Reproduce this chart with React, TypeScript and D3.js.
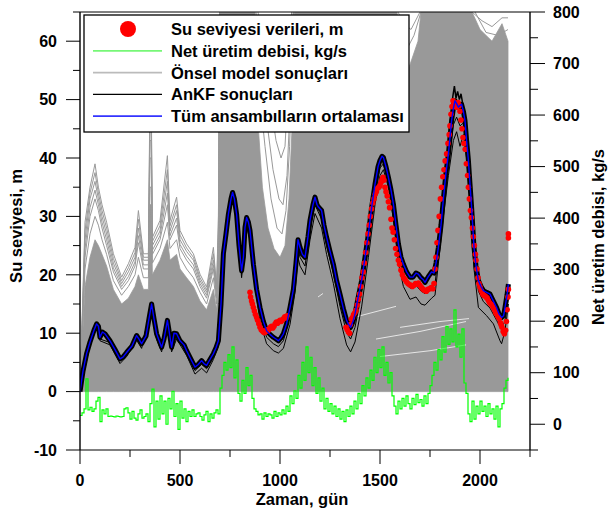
import React, { useMemo } from "react";
import * as d3 from "d3";

const W = 608;
const H = 512;

// ---------------- data ----------------
const xMajorTicks = [0, 500, 1000, 1500, 2000];
const xMinorTicks = [250, 750, 1250, 1750, 2250];
const leftMajorTicks = [-10, 0, 10, 20, 30, 40, 50, 60];
const leftMinorTicks = [-5, 5, 15, 25, 35, 45, 55, 65];
const rightMajorTicks = [0, 100, 200, 300, 400, 500, 600, 700, 800];
const rightMinorTicks = [-50, 50, 150, 250, 350, 450, 550, 650, 750];

const legendLabels = [
  "Su seviyesi verileri, m",
  "Net üretim debisi, kg/s",
  "Önsel model sonuçları",
  "AnKF sonuçları",
  "Tüm ansambılların ortalaması",
];

// ensemble mean (day, m)
const meanSeries: [number, number][] = [
  [0, 0], [15, 3.5], [33, 6.5], [50, 8.5], [70, 10.5], [83, 11.6], [92, 11.2], [100, 9.3], [112, 10.2], [125, 9.9],
  [150, 8.7], [175, 7.2], [200, 5.6], [215, 5.9], [233, 6.7], [260, 7.8], [283, 9.6], [295, 9.0], [308, 8.2], [330, 9.5],
  [345, 12.5], [358, 15.0], [370, 12.5], [383, 9.9], [408, 7.6], [420, 9.0], [437, 12.2], [445, 10.5], [458, 7.6], [470, 10.0],
  [483, 9.9], [500, 8.7], [520, 8.0], [533, 7.0], [555, 5.5], [575, 4.2], [590, 4.6], [608, 5.3], [620, 4.8], [633, 4.5],
  [650, 5.5], [667, 6.5], [680, 7.5], [692, 8.7], [705, 15.0], [717, 23.6], [730, 27.0], [742, 30.4], [755, 33.0], [763, 34.1],
  [772, 33.0], [783, 30.4], [795, 25.0], [808, 20.7], [817, 23.0], [825, 28.1], [833, 29.8], [842, 29.0], [850, 27.6], [867, 21.8],
  [883, 17.5], [900, 14.4], [917, 12.0], [933, 10.4], [950, 9.8], [967, 9.3], [980, 9.0], [992, 8.7], [1005, 9.2], [1017, 9.9],
  [1033, 11.6], [1050, 14.4], [1067, 17.5], [1080, 22.0], [1090, 26.0], [1100, 24.7], [1112, 23.5], [1125, 23.0], [1140, 26.5], [1150, 29.3],
  [1165, 32.0], [1175, 33.3], [1185, 32.0], [1192, 31.6], [1208, 31.0], [1220, 28.5], [1233, 26.4], [1250, 24.0], [1267, 21.8], [1283, 19.0],
  [1300, 16.7], [1317, 14.2], [1333, 12.2], [1343, 11.5], [1353, 11.0], [1365, 12.0], [1375, 13.3], [1390, 16.0], [1408, 19.0], [1425, 23.0],
  [1442, 27.0], [1458, 31.5], [1475, 35.5], [1490, 38.5], [1500, 39.6], [1510, 40.3], [1517, 40.1], [1530, 38.5], [1542, 36.7], [1555, 34.5],
  [1567, 32.1], [1580, 28.5], [1592, 25.3], [1605, 23.0], [1617, 21.8], [1633, 20.5], [1650, 19.6], [1665, 19.6], [1680, 20.3], [1692, 20.1],
  [1705, 19.5], [1715, 19.2], [1725, 18.7], [1740, 19.6], [1758, 20.5], [1770, 20.3], [1780, 22.0], [1792, 24.7], [1805, 28.5], [1817, 33.0],
  [1830, 37.5], [1842, 40.7], [1858, 46.4], [1867, 48.5], [1875, 49.8], [1883, 49.3], [1892, 48.7], [1900, 49.0], [1908, 49.2], [1917, 48.0],
  [1925, 46.4], [1933, 43.0], [1942, 39.6], [1950, 35.5], [1958, 31.6], [1970, 24.7], [1980, 21.5], [1992, 19.0], [2005, 18.0], [2017, 17.3],
  [2033, 17.0], [2050, 16.7], [2067, 15.5], [2083, 14.4], [2095, 13.3], [2108, 12.7], [2118, 13.0], [2125, 14.4], [2135, 16.5], [2142, 18.4],
];

// AnKF members that drift below the cluster
const ankfLow1: [number, number][] = [
  [0, 0], [50, 8], [83, 11], [100, 8.7], [150, 8], [200, 4.8], [233, 6], [283, 8.8], [308, 7.4], [358, 14.2], [383, 9], [408, 6.8],
  [437, 11.4], [458, 6.8], [483, 9], [533, 6.2], [575, 3.0], [608, 4.0], [633, 3.2], [667, 5.5], [692, 7.8], [717, 22.5], [742, 29.3],
  [763, 33.0], [783, 29.0], [808, 19.5], [833, 28.2], [850, 26.0], [867, 20.0], [900, 12.0], [933, 8.2], [967, 7.0], [992, 6.6],
  [1017, 7.4], [1050, 11.5], [1075, 17.0], [1090, 23.0], [1100, 21.5], [1125, 20.0], [1150, 26.0], [1175, 30.5], [1208, 28.0],
  [1233, 23.5], [1267, 18.5], [1300, 12.5], [1333, 8.0], [1353, 6.8], [1375, 8.5], [1408, 14.5], [1442, 23.0], [1475, 32.0],
  [1500, 37.0], [1517, 38.0], [1542, 35.0], [1567, 29.5], [1592, 22.0], [1617, 18.0], [1650, 15.8], [1680, 16.2], [1705, 15.0],
  [1725, 14.8], [1758, 16.0], [1775, 16.5], [1792, 22.0], [1817, 30.0], [1842, 37.0], [1867, 43.0], [1883, 44.5], [1900, 42.0],
  [1917, 44.0], [1933, 40.0], [1950, 33.0], [1970, 21.0], [1992, 14.4], [2033, 13.0], [2067, 11.6], [2100, 8.7], [2108, 8.2],
  [2125, 10.4], [2142, 15.0],
];

const ankfLow2: [number, number][] = [
  [0, 0], [50, 8.3], [83, 11.3], [100, 9.0], [150, 8.4], [200, 5.2], [233, 6.4], [283, 9.2], [308, 7.8], [358, 14.6], [383, 9.5],
  [408, 7.2], [437, 11.8], [458, 7.2], [483, 9.5], [533, 6.6], [575, 3.6], [608, 4.7], [633, 3.9], [667, 6.0], [692, 8.3], [717, 23.0],
  [742, 29.8], [763, 33.6], [783, 29.7], [808, 20.1], [833, 29.0], [850, 26.8], [867, 21.0], [900, 13.2], [933, 9.3], [967, 8.2],
  [992, 7.7], [1017, 8.7], [1050, 13.0], [1075, 18.5], [1090, 24.5], [1100, 23.0], [1125, 21.5], [1150, 27.6], [1175, 32.0],
  [1208, 29.5], [1233, 25.0], [1267, 20.2], [1300, 14.6], [1333, 10.1], [1353, 9.0], [1375, 11.0], [1408, 16.8], [1442, 25.0],
  [1475, 33.8], [1500, 38.3], [1517, 39.0], [1542, 35.8], [1567, 30.8], [1592, 23.7], [1617, 20.0], [1650, 17.7], [1680, 18.2],
  [1705, 17.2], [1725, 16.8], [1758, 18.2], [1775, 18.5], [1792, 23.3], [1817, 31.5], [1842, 38.8], [1867, 45.7], [1883, 47.0],
  [1900, 45.5], [1917, 46.0], [1933, 41.5], [1950, 34.2], [1970, 22.8], [1992, 17.2], [2017, 15.4], [2050, 14.3], [2083, 12.2],
  [2108, 10.6], [2125, 12.2], [2142, 16.2],
];

const ankfPeakMember: [number, number][] = [
  [1842, 41.5], [1855, 47.5], [1864, 50.5], [1872, 52.3], [1880, 50.2], [1888, 51.4], [1897, 50.0], [1905, 51.0], [1915, 49.0], [1925, 47.0], [1935, 43.5],
];

// observed water level (day, m)
const observed: [number, number][] = [
  [850, 17.0], [853, 16.2], [858, 15.5], [862, 15.0], [867, 14.4], [872, 13.8], [877, 13.2], [883, 12.7], [888, 12.2], [894, 11.6],
  [900, 11.0], [906, 10.6], [911, 10.4], [917, 10.2], [922, 10.1], [928, 10.3], [934, 10.6], [940, 10.4], [946, 10.7], [952, 11.0],
  [958, 11.2], [964, 10.9], [970, 11.2], [976, 11.6], [982, 11.9], [988, 11.7], [994, 12.0], [1000, 12.2], [1006, 12.0], [1012, 12.3],
  [1018, 12.5], [1024, 12.8], [1030, 12.6], [1035, 13.0],
  [1330, 11.0], [1336, 10.6], [1342, 10.2], [1348, 10.0], [1352, 11.5], [1357, 12.4], [1362, 12.7], [1368, 13.2], [1374, 13.5],
  [1380, 13.9], [1386, 14.8], [1392, 15.8], [1398, 16.7], [1404, 18.0], [1410, 19.5], [1416, 20.5], [1422, 22.0], [1428, 23.8],
  [1434, 25.5], [1440, 27.0], [1446, 28.5], [1452, 30.0], [1458, 31.3], [1464, 32.3], [1470, 33.0], [1476, 33.8], [1482, 34.2],
  [1488, 34.8], [1494, 35.0], [1500, 35.3], [1505, 35.8], [1510, 36.3], [1515, 36.7], [1520, 36.2], [1525, 35.0], [1530, 34.2],
  [1536, 33.5], [1542, 32.5], [1548, 31.5], [1555, 29.5], [1560, 28.0], [1566, 27.3], [1572, 26.0], [1578, 24.5], [1585, 23.5],
  [1592, 22.5], [1598, 21.8], [1605, 20.8], [1612, 20.0], [1618, 19.5], [1625, 19.2], [1632, 18.8], [1640, 18.5], [1648, 18.3],
  [1655, 18.2], [1662, 18.0], [1670, 18.2], [1678, 18.5], [1685, 18.4], [1692, 18.6], [1700, 18.2], [1708, 17.8], [1716, 17.5],
  [1724, 17.3], [1732, 17.2], [1740, 17.5], [1748, 17.6], [1756, 17.8], [1764, 17.6], [1770, 18.5],
  [1775, 21.0], [1780, 23.0], [1785, 25.5], [1790, 27.6], [1796, 30.0], [1802, 33.0], [1808, 35.0], [1814, 36.8], [1820, 38.0],
  [1826, 39.5], [1833, 40.7], [1840, 42.5], [1846, 44.0], [1850, 45.5], [1855, 47.5], [1860, 48.8], [1865, 49.8], [1870, 49.5],
  [1876, 48.8], [1883, 48.7], [1890, 49.5], [1896, 49.0], [1900, 48.0], [1905, 46.5], [1910, 45.0], [1915, 43.5], [1920, 42.5],
  [1926, 41.5], [1932, 39.0], [1938, 37.0], [1942, 35.0], [1947, 33.0], [1952, 31.0], [1957, 29.8], [1962, 28.0], [1967, 26.5],
  [1972, 25.0], [1977, 23.5],
  [1980, 22.5], [1985, 21.0], [1990, 19.5], [1995, 18.5], [2000, 17.9], [2006, 17.3], [2012, 16.8], [2018, 16.5], [2024, 16.4],
  [2030, 16.2], [2036, 16.0], [2042, 15.6], [2048, 15.2], [2054, 15.0], [2060, 14.8], [2066, 14.4], [2072, 14.0], [2078, 13.5],
  [2084, 13.2], [2090, 12.8], [2096, 12.5], [2102, 11.8], [2106, 11.4], [2110, 11.0], [2116, 10.3], [2122, 9.9], [2128, 10.5],
  [2132, 12.0], [2136, 14.0], [2140, 16.2], [2142, 17.5], [2142, 27.0], [2142, 26.3],
];

// net production rate, kg/s, every 10 days from day 0
const netRateStep = 10;
const netRate = [
  17, 22, 30, 88, 28, 33, 25, 30, 45, 52, 5, 28, 20, 30, 15, 16, 15, 14, 16, 15,
  14, 15, 30, 32, 22, 10, 25, 12, 8, 20, 28, 12, 15, 20, 5, 40, 68, -5, 45, 10,
  55, 20, 45, 0, 50, 30, 64, 15, 40, -10, 45, 12, 30, 5, 25, 15, 28, 15, 20, 22,
  15, 8, 18, 25, 5, 20, 12, 22, 28, 20, 70, 95, 120, 105, 135, 110, 150, 90, 125, 60,
  45, 85, 60, 110, 75, 95, 50, 30, 25, 18, 20, 10, 22, 15, 20, 18, 12, 25, 15, 22,
  18, 28, 20, 35, 25, 55, 40, 65, 50, 95, 70, 120, 85, 150, 100, 130, 75, 110, 60, 90,
  45, 70, 30, 50, 25, 40, 20, 35, 15, 30, 10, 25, 5, 28, 15, 35, 20, 45, 30, 60,
  40, 75, 55, 90, 70, 105, 85, 130, 100, 145, 110, 150, 95, 120, 80, 100, 55, 35, 20, 45,
  30, 50, 35, 55, 40, 30, 50, 38, 58, 42, 48, 35, 55, 40, 60, 75, 95, 120, 105, 145,
  125, 170, 140, 190, 155, 185, 160, 222, 150, 175, 130, 185, 80, 60, 20, 5, 45, 10, 35, 20,
  45, 25, 35, 15, 40, 20, 30, 10, 35, -5, 30, 40, 70, 85, 90,
];

// prior ensemble (Önsel model): early-period member levels on a day grid
const priorDays = [0, 25, 50, 75, 92, 110, 133, 167, 208, 242, 275, 292, 317, 342, 350, 356, 362, 400, 437, 450, 483, 500, 533, 567, 600, 633, 667, 683, 692, 700];
const priorOuter = [0, 29, 35, 39, 35, 32, 29, 23.6, 19.6, 21.9, 24.7, 31, 23.6, 23.6, 52, 52, 26.4, 29.3, 40.4, 29.3, 33.3, 27.6, 25.3, 23.6, 20.1, 17.9, 24.7, 17.9, 30, 65];
const priorMid0 = [0, 27.5, 34, 37.5, 34, 31, 28, 22.8, 19, 21.2, 23.8, 29.5, 23, 23, 49, 49, 25.7, 28.4, 38, 28.4, 32, 26.8, 24.6, 23, 19.5, 17.4, 23.6, 17.4, 28, 65];
const priorMid1 = [0, 26, 33, 36, 33, 30, 27, 22, 18.5, 20.5, 23, 28, 22.5, 22.5, 46, 46, 25, 27.5, 36, 27.5, 31, 26, 24, 22.5, 19, 17, 22.5, 17, 26, 65];
const priorMid15 = [0, 24.5, 31.5, 34.5, 32, 29, 26, 21.2, 18, 19.7, 22.2, 26.7, 21.7, 21.7, 43, 43, 24.2, 26.7, 34, 26.7, 29.7, 25.2, 23.2, 21.7, 18.5, 16.5, 21.7, 16.5, 24.5, 65];
const priorMid2 = [0, 23, 30, 33, 31, 28, 25, 20.5, 17.5, 19, 21.5, 25.5, 21, 21, 40, 40, 23.5, 26, 32, 26, 28.5, 24.5, 22.5, 21, 18, 16, 21, 16, 23, 65];
const priorMid3 = [0, 21, 27, 30, 28.5, 26, 23.5, 19, 16.5, 18, 20, 23, 19.5, 19.5, 35, 35, 22, 24.5, 29, 24.5, 26, 23, 21, 19.5, 17, 15, 19.5, 15, 21, 65];
const priorDense = [0, 18, 23, 26, 25, 23.5, 21.5, 17.5, 15, 16, 18, 20, 17.5, 17.5, 32, 32, 20, 22.5, 26, 22.5, 23.5, 21, 19.5, 18, 15.5, 14, 17.5, 14, 19, 65];
// later-period dense band top (day, m)
const priorDenseLate: [number, number][] = [
  [700, 65], [875, 65], [892, 45], [912, 35], [940, 28], [970, 24.5], [1000, 23], [1025, 25], [1045, 33], [1060, 45], [1072, 65],
  [1585, 65], [1600, 58], [1640, 55], [1690, 60], [1705, 65], [1960, 65], [2000, 62], [2060, 60], [2110, 63], [2140, 60],
];
const priorLateMembers: [number, number][][] = [
  [[865, 65], [895, 52], [925, 42], [955, 33], [985, 28], [1010, 27], [1030, 31], [1048, 42], [1060, 55], [1068, 65]],
  [[880, 65], [905, 55], [935, 46], [965, 38], [995, 33], [1015, 32], [1035, 37], [1052, 50], [1065, 65]],
  [[890, 65], [920, 58], [950, 50], [980, 43], [1005, 40], [1025, 42], [1045, 55], [1058, 65]],
  [[1580, 65], [1610, 61], [1640, 59], [1670, 61], [1705, 65]],
  [[1590, 65], [1620, 63], [1655, 62], [1700, 65]],
  [[1960, 65], [2010, 63.5], [2060, 62.5], [2110, 64], [2140, 64]],
  [[1975, 65], [2030, 61.5], [2090, 61], [2140, 62]],
];
// thin gaps between prior members
const priorGaps: [number, number][][] = [
  [[1380, 12.8], [1580, 14.6]],
  [[1480, 9.0], [1700, 10.3], [1930, 12.0]],
  [[1500, 6.0], [1750, 7.0], [1930, 8.0]],
  [[1600, 11.0], [1800, 12.0], [1945, 12.5]],
  [[1190, 16.2], [1215, 16.8]],
];

// ---------------- component ----------------
const FONT = "'Liberation Sans', Arial, Helvetica, sans-serif";

export default function App() {
  const x = d3.scaleLinear().domain([0, 2250]).range([80, 530]);
  const yL = d3.scaleLinear().domain([-10, 65]).range([450, 12]);
  const yR = d3.scaleLinear().domain([-50, 800]).range([450, 12]);

  const paths = useMemo(() => {
    const line = d3
      .line<[number, number]>()
      .x((d) => x(d[0]))
      .y((d) => yL(d[1]));
    const pair = (vals: number[]) => priorDays.map((d, i) => [d, vals[i]] as [number, number]);
    const denseTop: [number, number][] = [...pair(priorDense), ...priorDenseLate.slice(1)];
    const area = d3
      .area<[number, number]>()
      .x((d) => x(d[0]))
      .y0(() => yL(0))
      .y1((d) => yL(d[1]));
    const green = d3
      .line<number>()
      .x((_, i) => x(i * netRateStep))
      .y((d) => yR(d))
      .curve(d3.curveStepAfter);
    return {
      dense: area(denseTop) || "",
      fringe: [priorOuter, priorMid0, priorMid1, priorMid15, priorMid2, priorMid3].map((v) => line(pair(v)) || ""),
      late: priorLateMembers.map((m) => line(m) || ""),
      gaps: priorGaps.map((g) => line(g) || ""),
      green: green(netRate) || "",
      mean: line(meanSeries) || "",
      low1: line(ankfLow1) || "",
      low2: line(ankfLow2) || "",
      peak: line(ankfPeakMember) || "",
    };
  }, []);

  const gray = "#999999";

  return (
    <svg width={W} height={H} style={{ position: "absolute", left: 0, top: 0, background: "#fff" }} fontFamily={FONT}>
      <defs>
        <clipPath id="plot">
          <rect x={80} y={12} width={450} height={438} />
        </clipPath>
      </defs>
      <g clipPath="url(#plot)">
        <path d={paths.dense} fill={gray} stroke={gray} strokeWidth={0.8} />
        {paths.fringe.map((d, i) => (
          <path key={"f" + i} d={d} fill="none" stroke={gray} strokeWidth={1} />
        ))}
        {paths.late.map((d, i) => (
          <path key={"l" + i} d={d} fill="none" stroke={gray} strokeWidth={1} />
        ))}
        {paths.gaps.map((d, i) => (
          <path key={"g" + i} d={d} fill="none" stroke="#ffffff" strokeOpacity={0.75} strokeWidth={1} />
        ))}
        <path d={paths.green} fill="none" stroke="#00ff00" strokeWidth={1.2} />
        <path d={paths.mean} fill="none" stroke="#000" strokeWidth={5} strokeLinejoin="round" />
        <path d={paths.low2} fill="none" stroke="#000" strokeWidth={1} />
        <path d={paths.low1} fill="none" stroke="#000" strokeWidth={1} />
        <path d={paths.peak} fill="none" stroke="#000" strokeWidth={1.5} />
        {observed.map((d, i) => (
          <circle key={"o" + i} cx={x(d[0])} cy={yL(d[1])} r={2.8} fill="#ff0000" />
        ))}
        <path d={paths.mean} fill="none" stroke="#0000ff" strokeWidth={1.4} strokeLinejoin="round" />
      </g>

      {/* frame */}
      <line x1={80} x2={80} y1={12} y2={450} stroke="#000" strokeWidth={1.4} />
      <line x1={530} x2={530} y1={12} y2={450} stroke="#000" strokeWidth={1.4} />
      <line x1={80} x2={530} y1={12} y2={12} stroke="#000" strokeWidth={1} />
      <line x1={80} x2={530} y1={450} y2={450} stroke="#000" strokeWidth={1} />

      {/* left axis */}
      {leftMajorTicks.map((t) => (
        <g key={"lm" + t}>
          <line x1={66} x2={80} y1={yL(t)} y2={yL(t)} stroke="#000" strokeWidth={1} />
          <text x={57} y={yL(t)} dy="0.36em" textAnchor="end" fontSize={16} fontWeight="bold">
            {t}
          </text>
        </g>
      ))}
      {leftMinorTicks.map((t) => (
        <line key={"ln" + t} x1={73} x2={80} y1={yL(t)} y2={yL(t)} stroke="#000" strokeWidth={1} />
      ))}

      {/* right axis */}
      {rightMajorTicks.map((t) => (
        <g key={"rm" + t}>
          <line x1={530} x2={545} y1={yR(t)} y2={yR(t)} stroke="#000" strokeWidth={1} />
          <text x={553} y={yR(t)} dy="0.36em" textAnchor="start" fontSize={16} fontWeight="bold">
            {t}
          </text>
        </g>
      ))}
      {rightMinorTicks.map((t) => (
        <line key={"rn" + t} x1={530} x2={538} y1={yR(t)} y2={yR(t)} stroke="#000" strokeWidth={1} />
      ))}

      {/* bottom axis */}
      {xMajorTicks.map((t) => (
        <g key={"xm" + t}>
          <line x1={x(t)} x2={x(t)} y1={450} y2={464} stroke="#000" strokeWidth={1} />
          <text x={x(t)} y={486} textAnchor="middle" fontSize={16} fontWeight="bold">
            {t}
          </text>
        </g>
      ))}
      {xMinorTicks.map((t) => (
        <line key={"xn" + t} x1={x(t)} x2={x(t)} y1={450} y2={457} stroke="#000" strokeWidth={1} />
      ))}

      {/* axis titles */}
      <text x={302} y={505} textAnchor="middle" fontSize={16.5} fontWeight="bold">
        Zaman, gün
      </text>
      <text transform="translate(16,226) rotate(-90)" textAnchor="middle" dy="0.36em" fontSize={16.5} fontWeight="bold">
        Su seviyesi, m
      </text>
      <text transform="translate(598,237) rotate(-90)" textAnchor="middle" dy="0.36em" fontSize={16.5} fontWeight="bold">
        Net üretim debisi, kg/s
      </text>

      {/* legend */}
      <g>
        <rect x={84} y={15} width={325} height={117} fill="#fff" stroke="#000" strokeWidth={1.3} />
        {legendLabels.map((lab, i) => {
          const cy = 29 + i * 21.8;
          return (
            <g key={"lg" + i}>
              {i === 0 && <circle cx={128} cy={cy} r={8} fill="#ff0000" />}
              {i === 1 && <line x1={93} x2={162} y1={cy} y2={cy} stroke="#77f777" strokeWidth={1.8} />}
              {i === 2 && <line x1={93} x2={162} y1={cy} y2={cy} stroke="#bbbbbb" strokeWidth={1.8} />}
              {i === 3 && <line x1={93} x2={162} y1={cy} y2={cy} stroke="#000" strokeWidth={1.2} />}
              {i === 4 && <line x1={93} x2={162} y1={cy} y2={cy} stroke="#3333ff" strokeWidth={1.8} />}
              <text x={171} y={cy} dy="0.36em" fontSize={16.5} fontWeight="bold">
                {lab}
              </text>
            </g>
          );
        })}
      </g>
    </svg>
  );
}
